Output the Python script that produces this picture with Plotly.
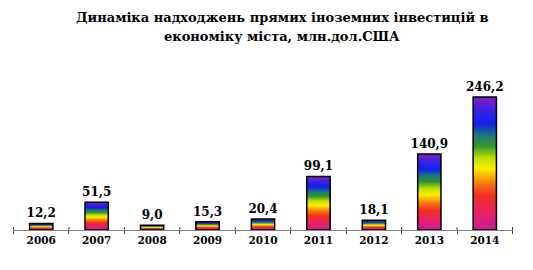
import plotly.graph_objects as go

years = ["2006", "2007", "2008", "2009", "2010", "2011", "2012", "2013", "2014"]
values = [12.2, 51.5, 9.0, 15.3, 20.4, 99.1, 18.1, 140.9, 246.2]
labels = [f"{v:.1f}".replace(".", ",") for v in values]

title_line1 = "Динаміка надходжень прямих іноземних інвестицій в"
title_line2 = "економіку міста, млн.дол.США"

# gradient stops (fraction from bottom of bar, color)
stops = [
    (0.00, (192, 32, 154)),
    (0.12, (232, 32, 106)),
    (0.26, (240, 48, 32)),
    (0.36, (248, 128, 16)),
    (0.46, (255, 238, 0)),
    (0.54, (192, 224, 0)),
    (0.63, (48, 150, 48)),
    (0.71, (32, 120, 120)),
    (0.80, (16, 32, 240)),
    (0.90, (64, 32, 224)),
    (1.00, (128, 32, 192)),
]


def grad(f):
    for (f0, c0), (f1, c1) in zip(stops[:-1], stops[1:]):
        if f0 <= f <= f1:
            t = (f - f0) / (f1 - f0)
            c = [round(a + (b - a) * t) for a, b in zip(c0, c1)]
            return f"rgb({c[0]},{c[1]},{c[2]})"
    return "rgb(128,32,192)"


FONT = "DejaVu Serif"
N = 60
BW = 0.42
YMAX = 314.7

fig = go.Figure()
for k in range(N):
    top = (N - k) / N
    mid = (N - k - 0.5) / N
    fig.add_trace(go.Bar(
        x=years, y=[v * top for v in values], width=BW,
        marker=dict(color=grad(mid), line=dict(width=0)),
        showlegend=False, hoverinfo="skip",
    ))

fig.add_trace(go.Bar(
    x=years, y=values, width=BW,
    marker=dict(color="rgba(0,0,0,0)", line=dict(color="black", width=1.5)),
    text=labels, textposition="outside", cliponaxis=False, constraintext="none",
    textfont=dict(family=FONT, size=12, color="black"),
    texttemplate="<b>%{text}</b>",
    showlegend=False,
))

# small upward parts of the cross ticks at category boundaries
for i in range(len(years) + 1):
    fig.add_shape(type="line", xref="x", yref="y", x0=i - 0.5, x1=i - 0.5,
                  y0=0, y1=YMAX * 3 / 170, line=dict(color="#404040", width=1))

for txt, ypx in [(title_line1, 17), (title_line2, 36)]:
    fig.add_annotation(
        text=f"<b>{txt}</b>", xref="paper", yref="paper",
        x=(282 - 13) / 500, y=(230 - ypx) / 170, xanchor="center", yanchor="middle",
        showarrow=False, font=dict(family=FONT, size=13, color="black"),
    )

fig.update_layout(
    width=533, height=270,
    margin=dict(l=13, r=20, t=60, b=40),
    paper_bgcolor="white", plot_bgcolor="white",
    barmode="overlay",
    xaxis=dict(type="category", tickson="boundaries", ticks="outside", ticklen=3,
               tickcolor="#404040", showline=True, linecolor="#808080", linewidth=1,
               showgrid=False, tickfont=dict(family=FONT, size=10.5, color="black"),
               tickprefix="<b>", ticksuffix="</b>"),
    yaxis=dict(range=[0, YMAX], visible=False, showgrid=False),
)

fig.write_html("out.html")
